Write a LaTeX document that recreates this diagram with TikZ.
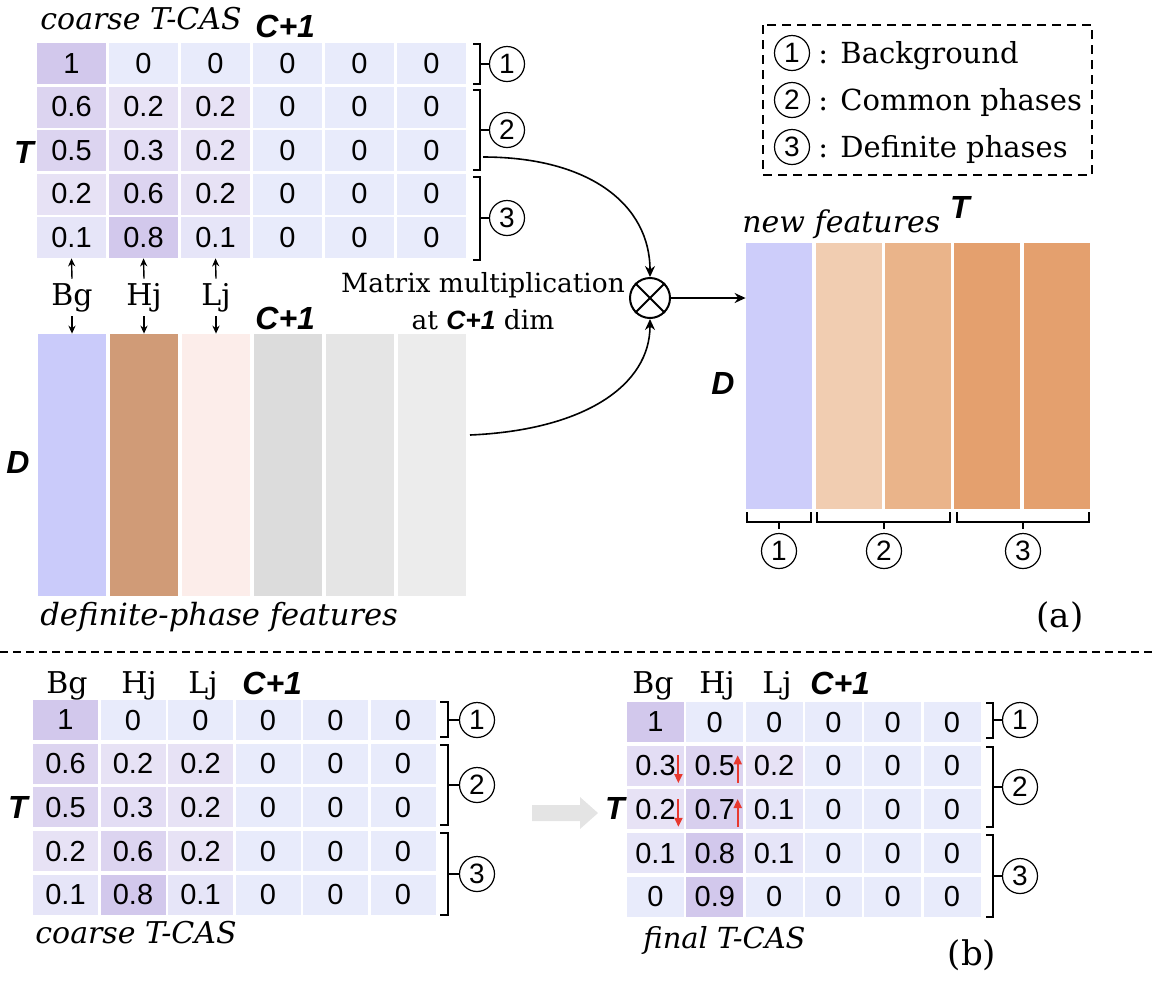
\documentclass[tikz,border=0pt]{standalone}
\usepackage{fontspec}
\setmainfont{DejaVu Serif}
\setsansfont{Liberation Sans}
\usetikzlibrary{arrows.meta,calc}
\definecolor{c10}{HTML}{D2C8EC}
\definecolor{c7}{HTML}{D8CFEE}
\definecolor{c6}{HTML}{DCD4F0}
\definecolor{c3}{HTML}{E3DDF4}
\definecolor{c2}{HTML}{E7E2F5}
\definecolor{c1}{HTML}{E6E5F8}
\definecolor{c0}{HTML}{E8EBFB}
\definecolor{fa1}{HTML}{CACBFA}
\definecolor{fa2}{HTML}{D09B77}
\definecolor{fa3}{HTML}{FCEDEA}
\definecolor{fa4}{HTML}{DCDCDC}
\definecolor{fa5}{HTML}{E5E5E5}
\definecolor{fa6}{HTML}{ECECEC}
\definecolor{nf1}{HTML}{CDCDFA}
\definecolor{nf2}{HTML}{F1CDB1}
\definecolor{nf3}{HTML}{EAB48A}
\definecolor{nf4}{HTML}{E4A06E}
\definecolor{nf5}{HTML}{E4A06E}
\definecolor{redup}{HTML}{E8392E}
\definecolor{grayarr}{HTML}{E4E4E4}
\tikzset{
  numfont/.style={font=\sffamily\fontsize{14.5}{14.5}\selectfont},
  cellA/.style={numfont, minimum width=34.5pt, minimum height=20.5pt, inner sep=0pt},
  cellB/.style={numfont, minimum width=32.5pt, minimum height=20pt, inner sep=0pt},
  cellC/.style={numfont, minimum width=28.5pt, minimum height=20pt, inner sep=0pt},
  featcol/.style={minimum width=34pt, minimum height=131pt, inner sep=0pt},
  newcol/.style={minimum width=33pt, minimum height=133pt, inner sep=0pt},
  bisans/.style={font=\sffamily\bfseries\itshape\fontsize{16}{16}\selectfont, inner sep=0pt},
  ittitle/.style={font=\itshape\fontsize{15}{15}\selectfont, inner sep=0pt},
  hdr/.style={font=\fontsize{15}{15}\selectfont, inner sep=0pt},
  circnum/.style={circle, draw, line width=0.6pt, minimum size=17.5pt, inner sep=0pt, font=\sffamily\fontsize{14}{14}\selectfont},
  brk/.style={line width=0.6pt},
  conn/.style={line width=0.8pt, -{Stealth[length=5.5pt,width=5pt]}},
  smallarr/.style={line width=0.7pt, -{Stealth[length=4pt,width=3.6pt]}},
  redarr/.style={draw=redup, line width=1pt, -{Triangle[length=4.5pt,width=4pt]}},
}
\begin{document}
\begin{tikzpicture}[x=0.5pt,y=-0.5pt]
\useasboundingbox (0,0) rectangle (1154,982);

% ---------- (a) top matrix ----------
\foreach \vals [count=\r] in {
  {1/c10,0/c0,0/c0,0/c0,0/c0,0/c0},
  {0.6/c6,0.2/c2,0.2/c2,0/c0,0/c0,0/c0},
  {0.5/c6,0.3/c3,0.2/c2,0/c0,0/c0,0/c0},
  {0.2/c2,0.6/c6,0.2/c2,0/c0,0/c0,0/c0},
  {0.1/c1,0.8/c10,0.1/c1,0/c0,0/c0,0/c0}}{
  \foreach \v/\cl [count=\c] in \vals {
    \node[cellA, fill=\cl] (A-\r-\c) at ({71.5+72*(\c-1)},{63.5+43.5*(\r-1)}) {\v};
  }
}
\node[ittitle, anchor=base west] (titleA) at (40,29) {coarse T-CAS};
\node[bisans, anchor=base west] (cA) at (255,37) {C+1};
\node[bisans] (TA) at (24,152) {T};

% brackets top matrix
\node[circnum] (Q1) at (507,64) {1};
\node[circnum] (Q2) at (507,130) {2};
\node[circnum] (Q3) at (507,218) {3};
\draw[brk] (473,44) -| (480,84) -- (473,84);
\draw[brk] (480,64) -- (Q1.west);
\draw[brk] (473,90) -| (480,170) -- (473,170);
\draw[brk] (480,130) -- (Q2.west);
\draw[brk] (473,177) -| (480,260) -- (473,260);
\draw[brk] (480,218) -- (Q3.west);

% feature columns
\foreach \cl [count=\c] in {fa1,fa2,fa3,fa4,fa5,fa6}{
  \node[featcol, fill=\cl] (F-\c) at ({72+72*(\c-1)},465) {};
}
\node[bisans, anchor=base west] (cF) at (255,329) {C+1};
\node[bisans] (DF) at (18,462) {D};
\node[ittitle, font=\itshape\fontsize{15.3}{15.3}\selectfont, anchor=base west] (titleF) at (40,625) {definite-phase features};

% Bg/Hj/Lj labels with arrows
\node[hdr, anchor=base, inner ysep=2pt] (L1) at (72,305) {Bg};
\node[hdr, anchor=base, inner ysep=2pt] (L2) at (144,305) {Hj};
\node[hdr, anchor=base, inner ysep=2pt] (L3) at (216,305) {Lj};
\foreach \i in {1,2,3}{
  \draw[smallarr] (L\i.north) -- (A-5-\i.south);
  \draw[smallarr] (L\i.south) -- (F-\i.north);
}

% matrix multiplication
\node[font=\fontsize{13.2}{13.2}\selectfont, anchor=base, inner sep=0pt] (mm1) at (483,292) {Matrix multiplication};
\node[font=\fontsize{13.2}{13.2}\selectfont, anchor=base, inner sep=0pt] (mm2) at (483,329) {at \textsf{\bfseries\itshape C+1} dim};
\node[circle, draw, line width=1pt, minimum size=20pt, inner sep=0pt] (O) at (650,298) {};
\draw[line width=1pt] (O.north east) -- (O.south west);
\draw[line width=1pt] (O.north west) -- (O.south east);
\coordinate (cu1) at (483,157);
\coordinate (cl1) at (470,435);
\draw[conn] (cu1) .. controls (590,157) and (650,205) .. (O.north);
\draw[conn] (cl1) .. controls (585,430) and (650,385) .. (O.south);

% new features
\foreach \cl/\xx [count=\c] in {nf1/779,nf2/849,nf3/918,nf4/987,nf5/1057}{
  \node[newcol, fill=\cl] (N-\c) at (\xx,376) {};
}
\draw[conn] (O.east) -- (O.east -| N-1.west);
\node[ittitle, anchor=base west] (titleN) at (742,232) {new features};
\node[bisans] (TN) at (960,207) {T};
\node[bisans] (DN) at (723,383) {D};

\node[circnum] (P1) at (779,551) {1};
\node[circnum] (P2) at (884,551) {2};
\node[circnum] (P3) at (1023,551) {3};
\draw[brk] (747,512) |- (811,522) -- (811,512);
\draw[brk, shorten >=2pt] (779,522) -- (P1.north);
\draw[brk] (817,512) |- (950,522) -- (950,512);
\draw[brk, shorten >=2pt] (884,522) -- (P2.north);
\draw[brk] (957,512) |- (1089,522) -- (1089,512);
\draw[brk, shorten >=2pt] (1023,522) -- (P3.north);

\node[font=\fontsize{17}{17}\selectfont, anchor=base, inner sep=0pt] (labA) at (1060,627) {(a)};

% legend
\draw[line width=0.6pt, dash pattern=on 4.5pt off 3pt] (763,25) rectangle (1092,175);
\node[circnum] (LG1) at (792,53) {1};
\node[circnum] (LG2) at (792,100) {2};
\node[circnum] (LG3) at (792,147) {3};
\node[font=\fontsize{14.5}{14.5}\selectfont, anchor=base west, inner sep=0pt] (LT1) at (818,63) {: Background};
\node[font=\fontsize{14.5}{14.5}\selectfont, anchor=base west, inner sep=0pt] (LT2) at (818,110) {: Common phases};
\node[font=\fontsize{14.5}{14.5}\selectfont, anchor=base west, inner sep=0pt] (LT3) at (818,157) {: Definite phases};

% separator
\coordinate (sepL) at (0,652);
\coordinate (sepR) at (1154,652);
\draw[line width=0.7pt, dash pattern=on 4pt off 2.5pt] (sepL) -- (sepR);

% ---------- (b) left matrix ----------
\foreach \vals [count=\r] in {
  {1/c10,0/c0,0/c0,0/c0,0/c0,0/c0},
  {0.6/c6,0.2/c2,0.2/c2,0/c0,0/c0,0/c0},
  {0.5/c6,0.3/c3,0.2/c2,0/c0,0/c0,0/c0},
  {0.2/c2,0.6/c6,0.2/c2,0/c0,0/c0,0/c0},
  {0.1/c1,0.8/c10,0.1/c1,0/c0,0/c0,0/c0}}{
  \foreach \v/\cl [count=\c] in \vals {
    \node[cellB, fill=\cl] (B-\r-\c) at ({65.5+67.5*(\c-1)},{720+43.7*(\r-1)}) {\v};
  }
}
\node[hdr, anchor=base] (HB1) at (67,693) {Bg};
\node[hdr, anchor=base] (HB2) at (139,693) {Hj};
\node[hdr, anchor=base] (HB3) at (203,693) {Lj};
\node[bisans, anchor=base west] (cB) at (242,694) {C+1};
\node[bisans] (TB) at (18,807) {T};
\node[ittitle, anchor=base west] (titleB) at (35,943) {coarse T-CAS};
\node[circnum] (R1) at (477,720) {1};
\node[circnum] (R2) at (477,785) {2};
\node[circnum] (R3) at (477,874) {3};
\draw[brk] (440,702) -| (448,737) -- (440,737);
\draw[brk] (448,720) -- (R1.west);
\draw[brk] (440,745) -| (448,825) -- (440,825);
\draw[brk] (448,785) -- (R2.west);
\draw[brk] (440,833) -| (448,915) -- (440,915);
\draw[brk] (448,874) -- (R3.west);

% gray arrow (drawn shape)
\fill[grayarr] (532,805) -- (580,805) -- (580,797) -- (598,813) -- (580,829) -- (580,821) -- (532,821) -- cycle;

% ---------- (b) right matrix ----------
\foreach \vals [count=\r] in {
  {1/c10,0/c0,0/c0,0/c0,0/c0,0/c0},
  {0.3/c3,0.5/c6,0.2/c2,0/c0,0/c0,0/c0},
  {0.2/c2,0.7/c7,0.1/c1,0/c0,0/c0,0/c0},
  {0.1/c1,0.8/c10,0.1/c1,0/c0,0/c0,0/c0},
  {0/c0,0.9/c10,0/c0,0/c0,0/c0,0/c0}}{
  \foreach \v/\cl [count=\c] in \vals {
    \node[cellC, fill=\cl] (C-\r-\c) at ({655.5+59.3*(\c-1)},{722+43.7*(\r-1)}) {\v};
  }
}
\foreach \r in {2,3}{
  \draw[redarr] ($(C-\r-1.north east)+(-6,10)$) -- ($(C-\r-1.south east)+(-6,-3)$);
  \draw[redarr] ($(C-\r-2.south east)+(-6,-3)$) -- ($(C-\r-2.north east)+(-6,10)$);
}
\node[hdr, anchor=base] (HC1) at (653,693) {Bg};
\node[hdr, anchor=base] (HC2) at (717,693) {Hj};
\node[hdr, anchor=base] (HC3) at (777,693) {Lj};
\node[bisans, anchor=base west] (cC) at (810,694) {C+1};
\node[bisans] (TC) at (615,808) {T};
\node[ittitle, font=\itshape\fontsize{14.5}{14.5}\selectfont, anchor=base west] (titleC) at (643,948) {final T-CAS};
\node[circnum] (S1) at (1020,720) {1};
\node[circnum] (S2) at (1020,787) {2};
\node[circnum] (S3) at (1020,876) {3};
\draw[brk] (986,703) -| (993,738) -- (986,738);
\draw[brk] (993,720) -- (S1.west);
\draw[brk] (986,747) -| (993,827) -- (986,827);
\draw[brk] (993,787) -- (S2.west);
\draw[brk] (986,835) -| (993,917) -- (986,917);
\draw[brk] (993,876) -- (S3.west);

\node[font=\fontsize{17}{17}\selectfont, anchor=base, inner sep=0pt] (labB) at (972,965) {(b)};
\end{tikzpicture}
\end{document}
